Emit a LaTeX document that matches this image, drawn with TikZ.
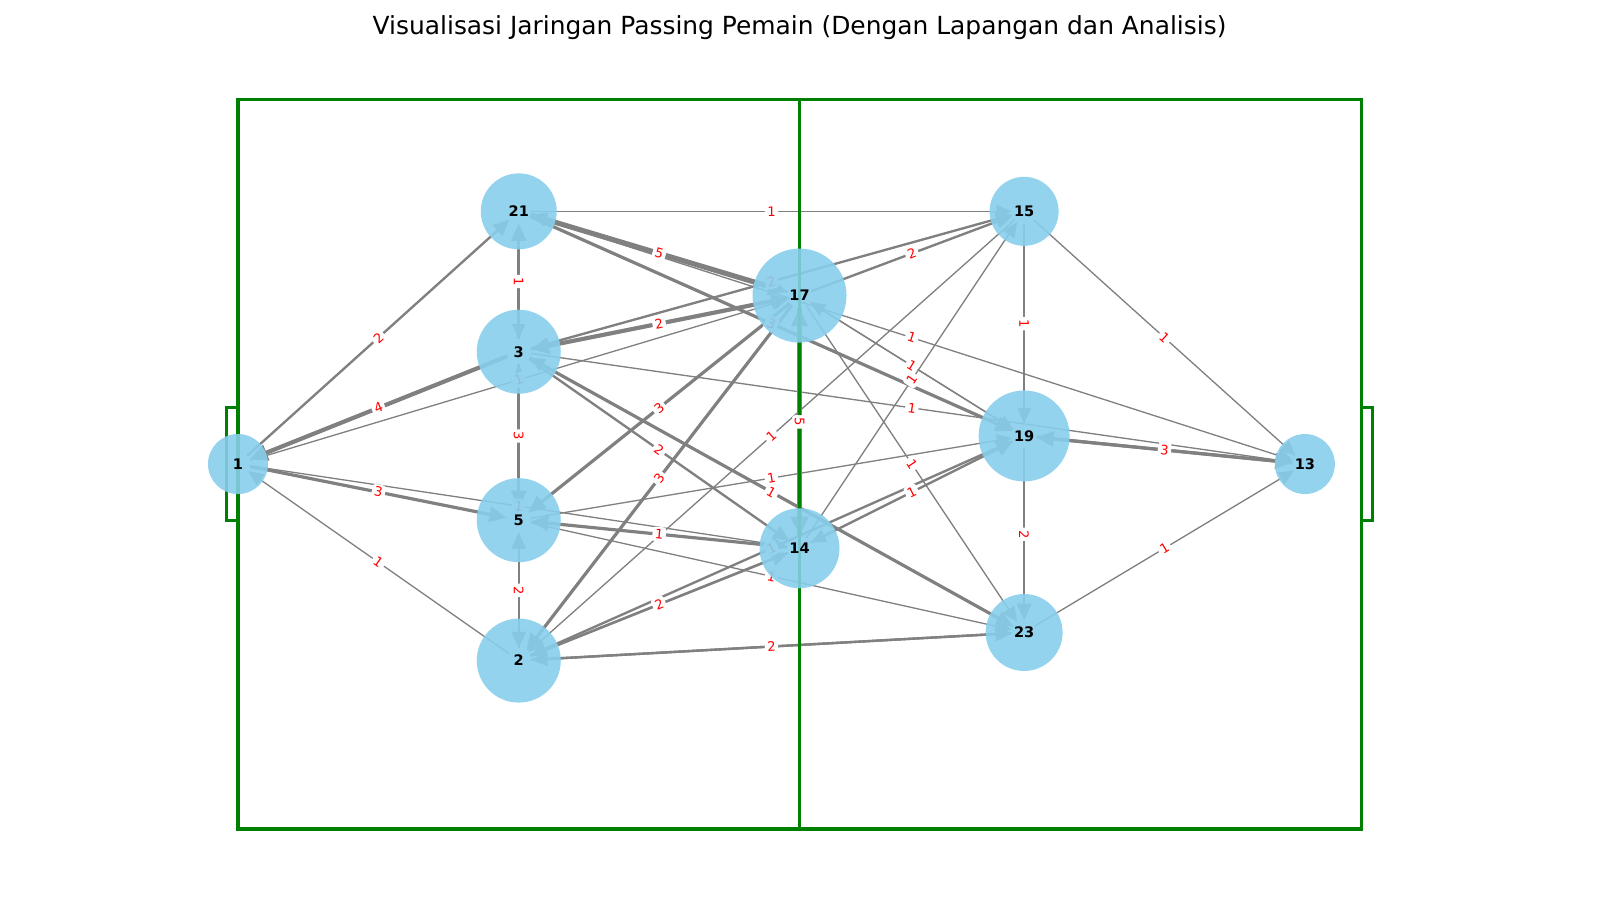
\documentclass[tikz,border=0pt]{standalone}
\usepackage{fontspec}
\setmainfont{DejaVu Sans}
\usetikzlibrary{arrows.meta}
\definecolor{skyblue}{RGB}{135,206,235}
\definecolor{pitchgreen}{RGB}{0,128,0}
\begin{document}
\begin{tikzpicture}[x=8.0856bp,y=8.0856bp,
  e/.style={draw=gray, -{Triangle[length=10bp 1, width=8.5bp 1]}, shorten >=9bp, shorten <=9bp},
  wa/.style={e, line width=0.95bp},
  wb/.style={e, line width=1.7bp},
  wc/.style={e, line width=2.3bp},
  wd/.style={e, line width=3bp},
  we/.style={e, line width=3.7bp},
  lbl/.style={fill=white, text=red, font=\fontsize{9.5}{11}\selectfont, inner sep=1.8bp, rounded corners=2bp},
  player/.style={circle, fill=skyblue, fill opacity=0.9, text opacity=1, inner sep=0pt, font=\fontsize{10.5}{12}\selectfont\bfseries},
  pitch/.style={draw=pitchgreen, line width=2.2bp}
]
\useasboundingbox (-21.193,-6.322) rectangle (121.28,73.82);
% node centres
\coordinate (n1) at (0,32.5);
\coordinate (n21) at (25,55);
\coordinate (n3) at (25,42.5);
\coordinate (n5) at (25,27.5);
\coordinate (n2) at (25,15);
\coordinate (n17) at (50,47.5);
\coordinate (n14) at (50,25);
\coordinate (n15) at (70,55);
\coordinate (n19) at (70,35);
\coordinate (n23) at (70,17.5);
\coordinate (n13) at (95,32.5);
% title
\node[font=\fontsize{18}{21}\selectfont] (title) at (50,71.35) {Visualisasi Jaringan Passing Pemain (Dengan Lapangan dan Analisis)};
% edges
\draw[wa] (n21) -- (n15);
\draw[we] (n21) -- (n17);
\draw[wb] (n17) -- (n21);
\draw[wa] (n21) -- (n3);
\draw[wc] (n3) -- (n21);
\draw[wc] (n21) -- (n19);
\draw[wb] (n1) -- (n21);
\draw[wd] (n3) -- (n1);
\draw[wa] (n1) -- (n17);
\draw[wc] (n1) -- (n5);
\draw[wa] (n1) -- (n14);
\draw[wa] (n2) -- (n1);
\draw[wc] (n3) -- (n5);
\draw[wa] (n5) -- (n3);
\draw[wb] (n3) -- (n17);
\draw[wd] (n17) -- (n3);
\draw[wb] (n3) -- (n15);
\draw[wa] (n21) -- (n13);
\draw[wa] (n3) -- (n13);
\draw[wb] (n3) -- (n14);
\draw[wc] (n3) -- (n23);
\draw[wa] (n23) -- (n3);
\draw[wc] (n17) -- (n5);
\draw[wc] (n17) -- (n2);
\draw[wa] (n15) -- (n2);
\draw[wc] (n14) -- (n5);
\draw[wa] (n5) -- (n14);
\draw[wb] (n2) -- (n14);
\draw[wb] (n14) -- (n2);
\draw[wb] (n2) -- (n23);
\draw[wb] (n23) -- (n2);
\draw[wb] (n5) -- (n2);
\draw[wb] (n2) -- (n5);
\draw[we] (n17) -- (n14);
\draw[wd] (n14) -- (n17);
\draw[wa] (n17) -- (n19);
\draw[wa] (n19) -- (n17);
\draw[wa] (n14) -- (n15);
\draw[wa] (n17) -- (n23);
\draw[wb] (n14) -- (n19);
\draw[wa] (n19) -- (n14);
\draw[wa] (n5) -- (n19);
\draw[wb] (n2) -- (n19);
\draw[wa] (n5) -- (n23);
\draw[wb] (n17) -- (n15);
\draw[wa] (n15) -- (n13);
\draw[wa] (n23) -- (n13);
\draw[wc] (n19) -- (n13);
\draw[wc] (n13) -- (n19);
\draw[wa] (n15) -- (n19);
\draw[wb] (n19) -- (n23);
% pitch
\draw[pitch] (0,0) rectangle (100,65);
\draw[pitch] (50,0) -- (50,65);
\draw[pitch] (-1,27.5) rectangle (0,37.5);
\draw[pitch] (100,27.5) rectangle (101,37.5);
% edge labels
\path (n21) -- node[lbl] {1} (n15);
\path (n21) -- node[lbl, rotate=-16.7] {5} (n17);
\path (n21) -- node[lbl, rotate=-90] {1} (n3);
\path (n21) -- node[lbl, rotate=-23.96] {3} (n19);
\path (n1) -- node[lbl, rotate=41.99] {2} (n21);
\path (n1) -- node[lbl, rotate=21.8] {4} (n3);
\path (n1) -- node[lbl, rotate=16.7] {1} (n17);
\path (n1) -- node[lbl, rotate=-11.3] {3} (n5);
\path (n1) -- node[lbl, rotate=-8.53] {1} (n14);
\path (n1) -- node[lbl, rotate=-34.99] {1} (n2);
\path (n3) -- node[lbl, rotate=-90] {3} (n5);
\path (n3) -- node[lbl, rotate=11.31] {2} (n17);
\path (n3) -- node[lbl, rotate=15.52] {2} (n15);
\path (n21) -- node[lbl, rotate=-17.82] {1} (n13);
\path (n3) -- node[lbl, rotate=-8.13] {1} (n13);
\path (n3) -- node[lbl, rotate=-34.99] {2} (n14);
\path (n3) -- node[lbl, rotate=-29.05] {1} (n23);
\path (n5) -- node[lbl, rotate=38.66] {3} (n17);
\path (n2) -- node[lbl, rotate=52.43] {3} (n17);
\path (n2) -- node[lbl, rotate=41.63] {1} (n15);
\path (n5) -- node[lbl, rotate=-5.71] {1} (n14);
\path (n2) -- node[lbl, rotate=21.8] {2} (n14);
\path (n2) -- node[lbl, rotate=3.18] {2} (n23);
\path (n5) -- node[lbl, rotate=-90] {2} (n2);
\path (n17) -- node[lbl, rotate=-90] {5} (n14);
\path (n17) -- node[lbl, rotate=-32.0] {1} (n19);
\path (n14) -- node[lbl, rotate=56.31] {1} (n15);
\path (n17) -- node[lbl, rotate=-56.31] {1} (n23);
\path (n14) -- node[lbl, rotate=26.57] {1} (n19);
\path (n5) -- node[lbl, rotate=9.46] {1} (n19);
\path (n2) -- node[lbl, rotate=23.96] {1} (n19);
\path (n5) -- node[lbl, rotate=-12.53] {1} (n23);
\path (n17) -- node[lbl, rotate=20.56] {2} (n15);
\path (n15) -- node[lbl, rotate=-41.99] {1} (n13);
\path (n23) -- node[lbl, rotate=30.96] {1} (n13);
\path (n19) -- node[lbl, rotate=-5.71] {3} (n13);
\path (n15) -- node[lbl, rotate=-90] {1} (n19);
\path (n19) -- node[lbl, rotate=-90] {2} (n23);
% players
\node[player, minimum size=43.2bp] (v1) at (n1) {1};
\node[player, minimum size=54.7bp] (v21) at (n21) {21};
\node[player, minimum size=60.5bp] (v3) at (n3) {3};
\node[player, minimum size=60.5bp] (v5) at (n5) {5};
\node[player, minimum size=60.5bp] (v2) at (n2) {2};
\node[player, minimum size=67.7bp] (v17) at (n17) {17};
\node[player, minimum size=57.6bp] (v14) at (n14) {14};
\node[player, minimum size=49.7bp] (v15) at (n15) {15};
\node[player, minimum size=65.5bp] (v19) at (n19) {19};
\node[player, minimum size=55.4bp] (v23) at (n23) {23};
\node[player, minimum size=43.2bp] (v13) at (n13) {13};
\end{tikzpicture}
\end{document}
